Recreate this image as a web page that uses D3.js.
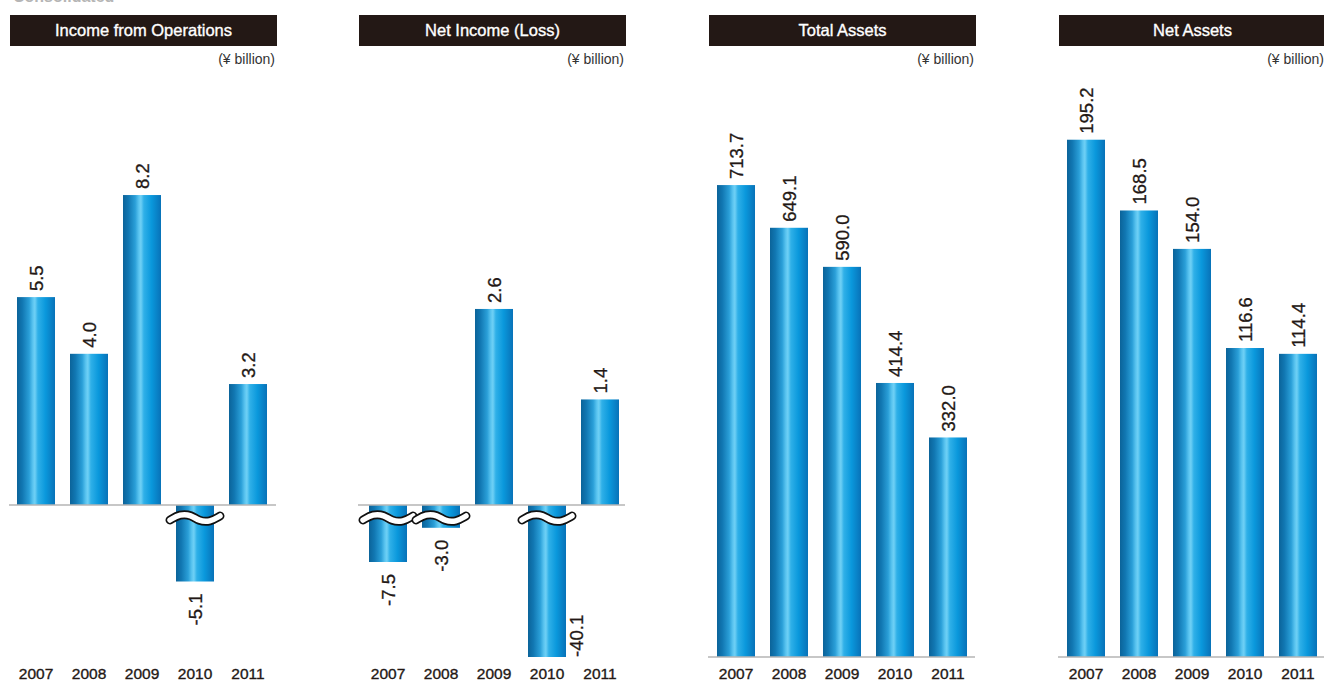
<!DOCTYPE html>
<html>
<head>
<meta charset="utf-8">
<script src="https://cdn.jsdelivr.net/npm/d3@7"></script>
<style>
  html, body { margin: 0; padding: 0; background: #fff; }
  svg { display: block; font-family: "Liberation Sans", Arial, Helvetica, sans-serif; }
</style>
</head>
<body>
<svg id="chart" width="1324" height="682"></svg>
<script>
// ---------- data ----------
const years = ["2007", "2008", "2009", "2010", "2011"];
const titles = ["Income from Operations", "Net Income (Loss)", "Total Assets", "Net Assets"];
const unitLabel = "(\u00a5 billion)";
const incomeFromOperations = [5.5, 4.0, 8.2, -5.1, 3.2];
const netIncome = [-7.5, -3.0, 2.6, -40.1, 1.4];
const totalAssets = [713.7, 649.1, 590.0, 414.4, 332.0];
const netAssets = [195.2, 168.5, 154.0, 116.6, 114.4];
const seriesList = [incomeFromOperations, netIncome, totalAssets, netAssets];
const valueFormat = d3.formatLocale({decimal: ".", thousands: ",", grouping: [3], currency: ["", ""], minus: "-"}).format(".1f");

// ---------- layout ----------
const titleY = 15, titleH = 31;
const panelW = 267;
const panelLefts = [10, 359, 709, 1059];
const barStarts = [17, 369, 717, 1067];
const zeroYs = [505, 505, 657, 657];
const posDomainTop = [10, 4, 800, 200];
const posPixel = [378, 301.6, 529, 530];
const negDomainBottom = [-10, -20, -1, -1];
const negPixel = [150, 152, 0, 0];
const bottomLimit = 657;
const yearBaseline = 680;
const inkColor = "#231815";

const svg = d3.select("#chart");
const defs = svg.append("defs");
const grad = defs.append("linearGradient").attr("id", "barGrad")
  .attr("x1", "0").attr("x2", "1").attr("y1", "0").attr("y2", "0");
[
  ["0%", "#0b6399"], ["14%", "#1177b2"], ["32%", "#2a9fd8"], ["42%", "#5cc6f1"],
  ["47%", "#6fd0f5"], ["55%", "#2fb0e8"], ["75%", "#0a98dc"], ["100%", "#0872b8"]
].forEach(([o, c]) => grad.append("stop").attr("offset", o).attr("stop-color", c));

// faint heading, cut off at the top edge as in the reference
svg.append("text").attr("x", 13).attr("y", 2).attr("font-size", 16).attr("font-weight", "bold")
  .attr("fill", "#b5b5b5").text("Consolidated");

seriesList.forEach((values, p) => {
  const L = panelLefts[p];
  const g = svg.append("g");

  g.append("rect").attr("x", L).attr("y", titleY).attr("width", panelW).attr("height", titleH)
    .attr("fill", inkColor);
  g.append("text").attr("x", L + panelW / 2).attr("y", titleY + titleH / 2).attr("dy", "0.36em")
    .attr("text-anchor", "middle").attr("fill", "#fff").attr("font-size", 16.5)
    .attr("stroke", "#fff").attr("stroke-width", 0.35)
    .text(titles[p]);
  g.append("text").attr("x", L + panelW - 2).attr("y", 64).attr("text-anchor", "end")
    .attr("fill", "#333").attr("font-size", 14).text(unitLabel);

  const x = d3.scaleBand().domain(years).range([barStarts[p], barStarts[p] + 250])
    .paddingInner(0.283).paddingOuter(0);
  const zeroY = zeroYs[p];
  const yPos = d3.scaleLinear().domain([0, posDomainTop[p]]).range([zeroY, zeroY - posPixel[p]]);
  const yNeg = d3.scaleLinear().domain([0, negDomainBottom[p]]).range([zeroY, zeroY + negPixel[p]]).clamp(true);
  const yOf = v => v >= 0 ? yPos(v) : yNeg(v);

  g.selectAll("rect.bar").data(values).enter().append("rect").attr("class", "bar")
    .attr("x", (d, i) => x(years[i]))
    .attr("width", x.bandwidth())
    .attr("y", d => Math.min(yOf(d), zeroY))
    .attr("height", d => Math.abs(yOf(d) - zeroY))
    .attr("fill", "url(#barGrad)");

  g.append("line").attr("x1", L - 1).attr("x2", L + panelW - 1)
    .attr("y1", zeroY).attr("y2", zeroY)
    .attr("stroke", "#b4b4b4").attr("stroke-width", 1.6);

  const bw = x.bandwidth();
  const wave = d3.line().curve(d3.curveBasis);
  values.forEach((v, i) => {
    if (v >= 0) return;
    const cx = x(years[i]) + bw / 2, cy = zeroY + 13, hw = bw / 2 + 6;
    const pts = [[cx - hw, cy + 2], [cx - hw * 0.6, cy - 4], [cx - hw * 0.15, cy - 3],
                 [cx + hw * 0.15, cy + 3], [cx + hw * 0.6, cy + 4], [cx + hw, cy - 2]];
    g.append("path").attr("d", wave(pts)).attr("fill", "none")
      .attr("stroke", "#111").attr("stroke-width", 9).attr("stroke-linecap", "round");
    g.append("path").attr("d", wave(pts)).attr("fill", "none")
      .attr("stroke", "#fff").attr("stroke-width", 5.5).attr("stroke-linecap", "round");
  });

  values.forEach((v, i) => {
    const cx = x(years[i]) + bw / 2;
    const yEnd = yOf(v);
    const t = g.append("text").attr("font-size", 18.5).attr("fill", inkColor)
      .attr("stroke", inkColor).attr("stroke-width", 0.3).text(valueFormat(v));
    if (v >= 0) {
      t.attr("text-anchor", "start").attr("dy", "0.36em")
        .attr("transform", `translate(${cx},${yEnd - 6}) rotate(-90)`);
    } else {
      t.attr("text-anchor", "end").attr("dy", "0.36em")
        .attr("transform", `translate(${cx},${yEnd + 12}) rotate(-90)`);
      const len = t.node().getComputedTextLength();
      if (yEnd + 12 + len > bottomLimit) {
        t.attr("text-anchor", "start")
          .attr("transform", `translate(${x(years[i]) + bw + 10},${yEnd}) rotate(-90)`);
      }
    }
  });

  const axis = d3.axisBottom(x).tickSize(0).tickPadding(0);
  const ag = g.append("g").attr("transform", `translate(0,${yearBaseline - 12})`).call(axis);
  ag.select(".domain").remove();
  ag.selectAll("text").attr("font-size", 15.5).attr("fill", inkColor)
    .attr("stroke", inkColor).attr("stroke-width", 0.35)
    .attr("font-family", "'Liberation Sans', Arial, sans-serif").attr("y", 0).attr("dy", "0.71em");
});
</script>
</body>
</html>
